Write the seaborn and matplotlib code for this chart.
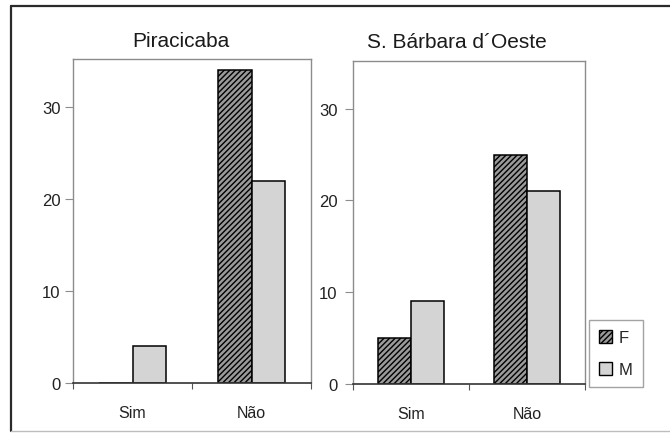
import matplotlib
matplotlib.use("Agg")
import matplotlib.pyplot as plt
from matplotlib.patches import Patch
from matplotlib.lines import Line2D
import pandas as pd
import seaborn as sns

# Responses by city and sex
answers = ["Sim", "Não"]
sexes = ["F", "M"]
piracicaba_f = [0, 34]
piracicaba_m = [4, 22]
sbarbara_f = [5, 25]
sbarbara_m = [9, 21]
cities = ["Piracicaba", "S. Bárbara d´Oeste"]


def long_table(f_vals, m_vals):
    rows = []
    for ans, fv, mv in zip(answers, f_vals, m_vals):
        rows.append({"resposta": ans, "sexo": "F", "n": fv})
        rows.append({"resposta": ans, "sexo": "M", "n": mv})
    return pd.DataFrame(rows)


sns.set_style("white")
plt.rcParams["font.family"] = ["Liberation Sans", "DejaVu Sans"]
plt.rcParams["hatch.linewidth"] = 1.0
plt.rcParams["hatch.color"] = "#1a1a1a"

fig = plt.figure(figsize=(6.7, 4.35), dpi=100)
W, H = 670, 435

# axes boxes in pixel coordinates: left, right, top, zero-line
boxes = [(73, 311, 60, 384), (353, 585, 62, 385)]
title_pos = [(181, 42), (457, 42)]
ytick_pads = [3, 5]
tables = [long_table(piracicaba_f, piracicaba_m), long_table(sbarbara_f, sbarbara_m)]

F_FACE = "#9a9a9a"
M_FACE = "#d4d4d4"

for (l, r, t, b), (tx, ty), ypad, city, df in zip(boxes, title_pos, ytick_pads,
                                                  cities, tables):
    ax = fig.add_axes([l / W, (H - b) / H, (r - l) / W, (b - t) / H])
    sns.barplot(data=df, x="resposta", y="n", hue="sexo", order=answers,
                hue_order=sexes, palette=[F_FACE, M_FACE], width=0.57,
                edgecolor="black", linewidth=1.1, saturation=1, ax=ax,
                legend=False)
    for p in ax.containers[0]:
        p.set_hatch("//////")
    ax.set_xlim(-0.5, 1.5)
    ax.set_ylim(0, 35.2)
    ax.set_yticks([0, 10, 20, 30])
    ax.set_xlabel("")
    ax.set_ylabel("")
    for side in ["top", "right", "left"]:
        ax.spines[side].set_color("#8c8c8c")
        ax.spines[side].set_linewidth(1.0)
    ax.spines["bottom"].set_color("#333333")
    ax.spines["bottom"].set_linewidth(1.2)
    ax.tick_params(axis="y", direction="out", length=6, width=0.8,
                   color="#8c8c8c", labelsize=12, pad=ypad, left=True,
                   labelcolor="#222222")
    ax.tick_params(axis="x", which="major", length=0, labelsize=11.5,
                   pad=16, labelcolor="#222222")
    ax.set_xticks([-0.5, 0.5, 1.5], minor=True)
    ax.tick_params(axis="x", which="minor", direction="out", length=4,
                   width=0.8, color="#555555", bottom=True)
    ax.text((tx - l) / (r - l), (b - ty) / (b - t), city,
            transform=ax.transAxes, ha="center", va="center",
            fontsize=15, color="#1a1a1a")
    last_ax = ax

handles = [Patch(facecolor=F_FACE, edgecolor="black", hatch="//////", linewidth=1.0),
           Patch(facecolor=M_FACE, edgecolor="black", linewidth=1.0)]
leg = last_ax.legend(handles, sexes, loc="upper left",
                     bbox_to_anchor=(589 / W, 1 - 321 / H),
                     bbox_transform=fig.transFigure, frameon=True,
                     fancybox=False, edgecolor="#8c8c8c", fontsize=12,
                     handlelength=0.8, handleheight=0.8, handletextpad=0.4,
                     labelspacing=1.0, borderpad=0.6, borderaxespad=0)
leg.get_frame().set_linewidth(1.0)

# outer chart frame: dark top and left edges, faint bottom edge
x_left = 11 / W
y_top = 1 - 7 / H
y_bot = 3 / H
fig.add_artist(Line2D([x_left, 1.0], [y_top, y_top], transform=fig.transFigure,
                      color="#2a2a2a", linewidth=1.6))
fig.add_artist(Line2D([x_left, x_left], [y_bot, y_top], transform=fig.transFigure,
                      color="#2a2a2a", linewidth=1.6))
fig.add_artist(Line2D([x_left, 1.0], [y_bot, y_bot], transform=fig.transFigure,
                      color="#bdbdbd", linewidth=1.0))

fig.savefig("out.png", dpi=100)
